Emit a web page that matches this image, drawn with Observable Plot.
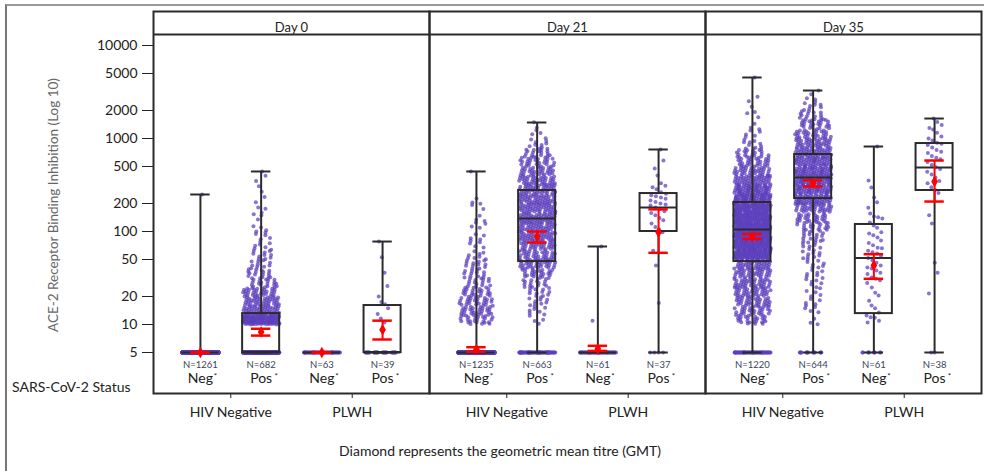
<!DOCTYPE html>
<html>
<head>
<meta charset="utf-8">
<script src="https://cdn.jsdelivr.net/npm/d3@7"></script>
<script src="https://cdn.jsdelivr.net/npm/@observablehq/plot@0.6"></script>
<style>
  body { margin: 0; background: #fff; }
  #wrap { position: relative; width: 984px; height: 471px; overflow: hidden; font-family: Lato, "Open Sans", sans-serif; color: #222; background: #fff; }
  #border { position: absolute; left: 5px; top: 4px; width: 1000px; height: 520px; border-left: 2px solid #777; border-top: 2px solid #999; box-sizing: border-box; }
  #chart { position: absolute; left: 0; top: 0; }
  #ylabel { position: absolute; left: -97px; top: 197px; width: 300px; height: 16px; line-height: 16px; text-align: center; font-size: 13.5px; color: #666; transform: rotate(-90deg); transform-origin: 150px 8px; white-space: nowrap; }
  #status { position: absolute; left: 12px; top: 378px; font-size: 14px; line-height: 18px; white-space: nowrap; }
  #caption { position: absolute; left: 200px; width: 600px; top: 442px; text-align: center; font-size: 14px; line-height: 18px; white-space: nowrap; }
</style>
</head>
<body>
<div id="wrap">
  <div id="border"></div>
  <div id="chart"></div>
  <div id="ylabel">ACE-2 Receptor Binding Inhibition (Log 10)</div>
  <div id="status">SARS-CoV-2 Status</div>
  <div id="caption">Diamond represents the geometric mean titre (GMT)</div>
</div>
<script>
// ---------------- data ----------------
const days = ["Day 0", "Day 21", "Day 35"];
const sarsStatus = ["Neg", "Pos", "Neg", "Pos"];
const hivGroups = ["HIV Negative", "PLWH"];
const nCounts = [[1261, 682, 63, 39], [1235, 663, 61, 37], [1220, 644, 61, 38]];
const yTicks = [5, 10, 20, 50, 100, 200, 500, 1000, 2000, 5000, 10000];

// box plot statistics, [day][group]
const boxMin    = [[5, 5, 5, 5], [5, 5, 5, 5], [5, 5, 5, 5]];
const boxQ1     = [[5, 5, 5, 5], [5, 47.5, 5, 100], [47.5, 226, 13.1, 276]];
const boxMedian = [[5, 5, 5, 5], [5, 138, 5, 181], [105, 381, 52, 488]];
const boxQ3     = [[5, 13.1, 5, 16], [5, 276, 5, 256], [205, 673, 119, 883]];
const boxMax    = [[250, 442, 5, 78], [442, 1486, 69, 762], [4530, 3280, 820, 1640]];

// geometric mean titre and its confidence interval, [day][group]
const gmt     = [[5, 8.3, 5, 8.8], [5.4, 88, 5.5, 98], [88, 328, 43, 345]];
const gmtLow  = [[5, 7.6, 5, 6.9], [5.1, 76, 5.2, 59], [83, 305, 31, 210]];
const gmtHigh = [[5, 9.0, 5, 11.0], [5.7, 100, 5.9, 173], [94, 355, 57, 580]];

// individual titres as [titre, number of participants] read from the point clouds
const pointsDay0 = [
  [[5, 1260], [250, 1]],
  [[5, 353], [11.2, 120], [14.1, 50], [17.8, 40], [22.4, 35], [28.2, 20], [35.5, 15], [44.7, 10], [56.2, 10], [70.8, 7], [89.1, 5], [112, 4], [141, 3], [178, 3], [224, 2], [282, 2], [355, 2], [442, 1]],
  [[5, 63]],
  [[5, 28], [10.5, 1], [11.6, 1], [13, 1], [15, 1], [16.5, 1], [17.5, 1], [20, 1], [26, 1], [36, 1], [53, 1], [78, 1]]
];
const pointsDay21 = [
  [[5, 1063], [11.2, 25], [14.1, 28], [17.8, 28], [22.4, 22], [28.2, 15], [35.5, 12], [44.7, 12], [56.2, 8], [70.8, 5], [89.1, 4], [112, 4], [141, 3], [178, 3], [224, 2], [442, 1]],
  [[5, 70], [11.2, 4], [14.1, 7], [17.8, 9], [22.4, 12], [28.2, 16], [35.5, 25], [44.7, 38], [56.2, 35], [70.8, 38], [89.1, 44], [112, 46], [141, 48], [178, 48], [224, 46], [282, 44], [355, 40], [447, 34], [562, 27], [708, 18], [891, 8], [1122, 4], [1413, 2]],
  [[5, 59], [11, 1], [69, 1]],
  [[5, 4], [17, 1], [43, 1], [62, 1], [98, 1], [105, 1], [112, 1], [122, 1], [132, 1], [140, 1], [150, 1], [158, 1], [165, 1], [175, 1], [181, 1], [190, 1], [195, 1], [200, 1], [208, 1], [215, 1], [225, 1], [232, 1], [240, 1], [245, 1], [255, 1], [265, 1], [285, 1], [300, 1], [310, 1], [330, 1], [400, 1], [475, 1], [580, 1], [762, 1]]
];
const pointsDay35 = [
  [[5, 60], [11.2, 25], [14.1, 30], [17.8, 35], [22.4, 38], [28.2, 40], [35.5, 40], [44.7, 42], [56.2, 100], [70.8, 105], [89.1, 105], [112, 100], [141, 100], [178, 94], [224, 80], [282, 65], [355, 50], [447, 38], [562, 28], [708, 22], [891, 8], [1122, 5], [1413, 3], [1778, 3], [2239, 2], [2818, 1], [4530, 1]],
  [[5, 15], [11.2, 3], [14.1, 4], [17.8, 5], [22.4, 5], [28.2, 6], [35.5, 7], [44.7, 8], [56.2, 9], [70.8, 10], [89.1, 12], [112, 21], [141, 28], [178, 40], [224, 55], [282, 60], [355, 65], [447, 62], [562, 55], [708, 50], [891, 40], [1122, 32], [1413, 25], [1778, 15], [2239, 8], [2818, 3], [3280, 1]],
  [[5, 10], [10.5, 1], [11, 1], [11.8, 1], [12, 1], [12.5, 1], [13.5, 1], [15, 1], [16, 1], [18, 1], [20.5, 1], [22, 1], [25, 1], [28, 1], [30, 1], [31, 1], [32, 1], [35, 1], [36, 1], [38, 1], [40, 1], [41, 1], [43, 1], [46, 1], [49, 1], [52, 1], [55, 1], [58, 1], [60, 1], [62, 1], [66, 1], [67, 1], [71, 1], [75, 1], [80, 1], [86, 1], [91, 1], [95, 1], [98, 1], [110, 1], [116, 1], [125, 1], [138, 1], [142, 1], [145, 1], [156, 1], [180, 1], [206, 1], [232, 1], [297, 1], [353, 1], [820, 1]],
  [[5, 2], [21.5, 1], [36, 1], [46, 1], [122, 1], [150, 1], [260, 1], [280, 1], [300, 1], [330, 1], [350, 1], [380, 1], [410, 1], [440, 1], [470, 1], [490, 1], [520, 1], [560, 1], [600, 1], [620, 1], [650, 1], [700, 1], [720, 1], [750, 1], [800, 1], [850, 1], [880, 1], [900, 1], [950, 1], [1000, 1], [1050, 1], [1150, 1], [1250, 1], [1300, 1], [1400, 1], [1500, 1], [1640, 1]]
];

// ---------------- build tables ----------------
const pointSets = [pointsDay0, pointsDay21, pointsDay35];
const frac = v => v - Math.floor(v);

const groupRows = [];
days.forEach((day, di) => sarsStatus.forEach((status, g) => {
  groupRows.push({
    day, g, status, n: nCounts[di][g],
    min: boxMin[di][g], q1: boxQ1[di][g], med: boxMedian[di][g], q3: boxQ3[di][g], max: boxMax[di][g],
    gmt: gmt[di][g], lo: gmtLow[di][g], hi: gmtHigh[di][g]
  });
}));

// jittered dot layout (deterministic low-discrepancy spread, width follows local density)
const points = [];
pointSets.forEach((groups, di) => groups.forEach((entries, g) => {
  const vals = [];
  let k = 0;
  for (const [v, c] of entries) {
    for (let i = 0; i < c; i++, k++) {
      let lv = Math.log10(v);
      if (c > 1 && v > 5) lv += (frac(0.5 + k * 0.5698402910) - 0.5) * 0.1;
      vals.push({lv, k});
    }
  }
  const sorted = vals.map(d => d.lv).sort((a, b) => a - b);
  for (const p of vals) {
    const n = d3.bisectRight(sorted, p.lv + 0.05) - d3.bisectLeft(sorted, p.lv - 0.05);
    const w = Math.min(0.3, 0.05 + 0.045 * Math.sqrt(n));
    const u = frac(0.5 + p.k * 0.7548776662) * 2 - 1;
    points.push({day: days[di], x: g + u * w, y: Math.pow(10, p.lv)});
  }
}));

// ---------------- chart ----------------
const yDomain = [1.812, 13130];
const ink = "#2b2b2b";
const purple = "#5b3fbd";
const red = "#ff0000";
const halfBox = 0.305, halfCap = 0.16;

const chart = Plot.plot({
  width: 984,
  height: 471,
  marginLeft: 153,
  marginRight: 3,
  marginTop: 34,
  marginBottom: 78,
  style: {fontFamily: "Lato, 'Open Sans', sans-serif", fontSize: "14px", color: "#222", background: "transparent"},
  fx: {domain: days, padding: 0, axis: null},
  x: {domain: [-0.773, 3.773], ticks: [0.5, 2.5], tickFormat: t => hivGroups[Math.round((t - 0.5) / 2)], tickSize: 5, tickPadding: 9, label: null},
  y: {type: "log", domain: yDomain, ticks: yTicks, tickFormat: () => "", tickSize: 11, tickPadding: 5, label: null},
  marks: [
    Plot.dot(points, {fx: "day", x: "x", y: "y", r: 2, fill: purple, fillOpacity: 0.72}),
    // boxes
    Plot.rect(groupRows, {fx: "day", x1: d => d.g - halfBox, x2: d => d.g + halfBox, y1: "q1", y2: "q3", fill: "none", stroke: ink, strokeWidth: 2}),
    Plot.ruleY(groupRows, {fx: "day", y: "med", x1: d => d.g - halfBox, x2: d => d.g + halfBox, stroke: ink, strokeWidth: 2}),
    Plot.ruleX(groupRows, {fx: "day", x: "g", y1: "q3", y2: "max", stroke: ink, strokeWidth: 2}),
    Plot.ruleX(groupRows, {fx: "day", x: "g", y1: "min", y2: "q1", stroke: ink, strokeWidth: 2}),
    Plot.ruleY(groupRows, {fx: "day", y: "max", x1: d => d.g - halfCap, x2: d => d.g + halfCap, stroke: ink, strokeWidth: 2}),
    Plot.ruleY(groupRows, {fx: "day", y: "min", x1: d => d.g - halfCap, x2: d => d.g + halfCap, stroke: ink, strokeWidth: 2}),
    // GMT with CI
    Plot.ruleX(groupRows, {fx: "day", x: "g", y1: "lo", y2: "hi", stroke: red, strokeWidth: 2}),
    Plot.ruleY(groupRows, {fx: "day", y: "lo", x1: d => d.g - halfCap, x2: d => d.g + halfCap, stroke: red, strokeWidth: 2.5}),
    Plot.ruleY(groupRows, {fx: "day", y: "hi", x1: d => d.g - halfCap, x2: d => d.g + halfCap, stroke: red, strokeWidth: 2.5}),
    Plot.dot(groupRows, {fx: "day", x: "g", y: "gmt", symbol: "diamond", r: 3.5, fill: red}),
    // y tick labels (left panel only)
    Plot.text(yTicks, {fx: () => days[0], y: d => d, text: d => String(d), frameAnchor: "left", textAnchor: "end", dx: -16, fontSize: 14, fill: "#222"}),
    // labels inside panels
    Plot.text(groupRows, {fx: "day", x: "g", text: d => "N=" + d.n, frameAnchor: "bottom", dy: -26, fontSize: 9.5, fill: "#3a3f5a"}),
    Plot.text(groupRows, {fx: "day", x: "g", text: "status", frameAnchor: "bottom", dy: -11, fontSize: 14, fill: "#222"}),
    Plot.text(groupRows, {fx: "day", x: "g", text: () => "*", frameAnchor: "bottom", dx: 15, dy: -15, fontSize: 8, fill: "#222"}),
    // panel frames and headers
    Plot.frame({stroke: ink, strokeWidth: 2, insetTop: -23}),
    Plot.ruleY([yDomain[1]], {stroke: ink, strokeWidth: 2}),
    Plot.text(days, {fx: d => d, text: d => d, frameAnchor: "top", dy: -12, fontSize: 13, fill: "#222"})
  ]
});
document.getElementById("chart").appendChild(chart);
</script>
</body>
</html>
